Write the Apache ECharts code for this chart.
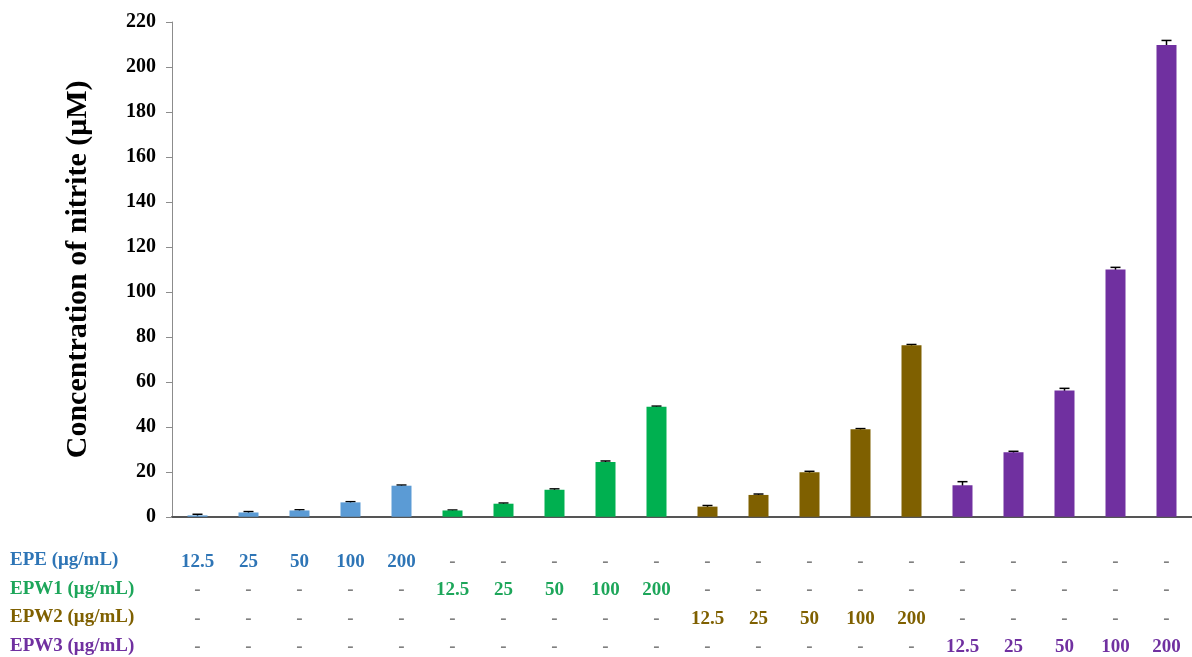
<!DOCTYPE html>
<html>
<head>
<meta charset="utf-8">
<script src="https://cdn.jsdelivr.net/npm/echarts@6/dist/echarts.min.js"></script>
<style>
html,body{margin:0;padding:0;background:#fff;}
#chart{width:1192px;height:657px;}
</style>
</head>
<body>
<div id="chart"></div>
<script>
const groups = ['EPE', 'EPW1', 'EPW2', 'EPW3'];
const rowTitles = ['EPE (μg/mL)', 'EPW1 (μg/mL)', 'EPW2 (μg/mL)', 'EPW3 (μg/mL)'];
const doses = ['12.5', '25', '50', '100', '200'];
const epeValues = [0.6, 1.9, 2.8, 6.4, 13.8];
const epeErrors = [0.5, 0.4, 0.3, 0.3, 0.3];
const epw1Values = [2.8, 5.8, 12.0, 24.4, 48.9];
const epw1Errors = [0.2, 0.3, 0.4, 0.4, 0.3];
const epw2Values = [4.5, 9.7, 19.8, 38.9, 76.3];
const epw2Errors = [0.5, 0.4, 0.4, 0.3, 0.3];
const epw3Values = [14.0, 28.7, 56.1, 109.9, 209.8];
const epw3Errors = [1.6, 0.4, 1.0, 1.0, 2.0];
const yMin = 0, yMax = 220, yInterval = 20;
const yTitle = 'Concentration of nitrite (μM)';

const barColors = ['#5B9BD5', '#00B050', '#7F6000', '#7030A0'];
const textColors = ['#2E75B6', '#1DA65A', '#7F6000', '#7030A0'];
const allValues = [epeValues, epw1Values, epw2Values, epw3Values];
const allErrors = [epeErrors, epw1Errors, epw2Errors, epw3Errors];

const categories = [];
groups.forEach(g => doses.forEach(d => categories.push(g + ' ' + d)));

const font = 'Liberation Serif';
const tableFont = 19;
const rowH = 28.5;

const barSeries = groups.map((g, gi) => ({
  name: g,
  type: 'bar',
  barWidth: 20,
  barGap: '-100%',
  itemStyle: { color: barColors[gi] },
  z: 3,
  data: categories.map((c, ci) => Math.floor(ci / doses.length) === gi ? allValues[gi][ci % doses.length] : null)
}));

const errData = [];
groups.forEach((g, gi) => doses.forEach((d, di) => {
  const v = allValues[gi][di], e = allErrors[gi][di];
  errData.push([gi * doses.length + di, v - e, v + e]);
}));

const rich = { d: { color: '#808080', fontFamily: font, fontWeight: 'bold', fontSize: tableFont, lineHeight: rowH } };
groups.forEach((g, gi) => {
  rich['g' + gi] = { color: textColors[gi], fontFamily: font, fontWeight: 'bold', fontSize: tableFont, lineHeight: rowH };
});

const chart = echarts.init(document.getElementById('chart'));
chart.setOption({
  backgroundColor: '#fff',
  animation: false,
  grid: { left: 172, top: 22, width: 1026, height: 495 },
  xAxis: {
    type: 'category',
    data: categories,
    axisLine: { lineStyle: { color: '#555', width: 2 } },
    axisTick: { show: false },
    axisLabel: {
      interval: 0,
      margin: 31,
      formatter: (val, idx) => {
        const gi = Math.floor(idx / doses.length);
        const di = idx % doses.length;
        return groups.map((g, r) => r === gi ? '{g' + r + '|' + doses[di] + '}' : '{d|-}').join('\n');
      },
      rich: rich
    }
  },
  yAxis: {
    type: 'value',
    min: yMin, max: yMax, interval: yInterval,
    name: yTitle,
    nameLocation: 'middle',
    nameGap: 79,
    nameTextStyle: { fontFamily: font, fontWeight: 'bold', fontSize: 30, color: '#000' },
    axisLine: { show: true, lineStyle: { color: '#8c8c8c', width: 1 } },
    axisTick: { show: true, length: 6, lineStyle: { color: '#8c8c8c' } },
    splitLine: { show: false },
    axisLabel: { margin: 16, fontFamily: font, fontWeight: 'bold', fontSize: 20, color: '#000' }
  },
  graphic: rowTitles.map((t, r) => ({
    type: 'text',
    left: 10,
    top: 562 + r * rowH - 11,
    style: { text: t, fill: textColors[r], font: 'bold ' + tableFont + 'px "' + font + '"' }
  })),
  series: barSeries.concat([{
    type: 'custom',
    z: 2,
    data: errData,
    renderItem: (params, api) => {
      const x = api.value(0);
      const lo = api.coord([x, api.value(1)]);
      const hi = api.coord([x, api.value(2)]);
      const half = 5;
      const st = { stroke: '#000', lineWidth: 1.5 };
      return {
        type: 'group',
        children: [
          { type: 'line', shape: { x1: hi[0], y1: lo[1], x2: hi[0], y2: hi[1] }, style: st },
          { type: 'line', shape: { x1: hi[0] - half, y1: hi[1], x2: hi[0] + half, y2: hi[1] }, style: st }
        ]
      };
    }
  }])
});
</script>
</body>
</html>
